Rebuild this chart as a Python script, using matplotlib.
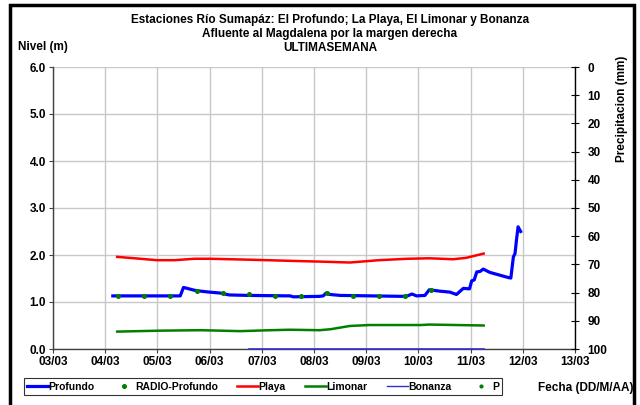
import numpy as np
import pandas as pd
import matplotlib
matplotlib.use("Agg")
import matplotlib.pyplot as plt
import matplotlib.dates as mdates
from matplotlib.patches import Rectangle
from matplotlib.lines import Line2D

plt.rcParams["font.family"] = ["Liberation Sans", "DejaVu Sans"]
plt.rcParams["font.weight"] = "bold"

# Datos (nivel en m)
profundo_t = [
    "2011-03-04 03:30", "2011-03-05 10:30", "2011-03-05 12:00", "2011-03-05 17:00",
    "2011-03-05 20:00", "2011-03-06 00:00", "2011-03-06 05:00", "2011-03-06 09:00",
    "2011-03-06 18:00", "2011-03-07 13:00", "2011-03-07 14:30", "2011-03-08 02:30",
    "2011-03-08 04:15", "2011-03-08 05:30", "2011-03-08 07:20", "2011-03-08 12:00",
    "2011-03-09 17:00", "2011-03-09 19:00", "2011-03-09 21:00", "2011-03-09 23:10",
    "2011-03-10 03:00", "2011-03-10 05:00", "2011-03-10 10:00", "2011-03-10 14:30",
    "2011-03-10 17:30", "2011-03-10 20:40", "2011-03-10 23:30", "2011-03-11 00:30",
    "2011-03-11 01:40", "2011-03-11 02:50", "2011-03-11 04:20", "2011-03-11 05:50",
    "2011-03-11 08:50", "2011-03-11 13:30", "2011-03-11 17:20", "2011-03-11 18:30",
    "2011-03-11 19:40", "2011-03-11 20:25", "2011-03-11 21:10", "2011-03-11 21:50",
    "2011-03-11 23:00",
]
profundo_v = [
    1.13, 1.13, 1.31, 1.25,
    1.23, 1.21, 1.19, 1.15,
    1.14, 1.13, 1.11, 1.12,
    1.13, 1.19, 1.16, 1.14,
    1.12, 1.13, 1.17, 1.13,
    1.14, 1.26, 1.23, 1.21,
    1.16, 1.29, 1.28, 1.45,
    1.47, 1.64, 1.65, 1.70,
    1.63, 1.57, 1.52, 1.51,
    1.96, 2.03, 2.35, 2.60,
    2.50,
]

radio_t = pd.date_range("2011-03-04 06:00", "2011-03-10 06:00", freq="12h")
radio_v = [1.13, 1.13, 1.13, 1.23, 1.19, 1.16, 1.13, 1.13, 1.19, 1.13, 1.13, 1.12, 1.25]

playa_t = [
    "2011-03-04 05:30", "2011-03-04 13:30", "2011-03-04 23:45", "2011-03-05 08:00",
    "2011-03-05 17:00", "2011-03-06 00:00", "2011-03-06 18:30", "2011-03-07 17:30",
    "2011-03-08 02:30", "2011-03-08 16:30", "2011-03-09 06:00", "2011-03-09 19:00",
    "2011-03-10 05:00", "2011-03-10 16:00", "2011-03-10 22:00", "2011-03-11 06:00",
]
playa_v = [1.96, 1.93, 1.89, 1.89, 1.92, 1.92, 1.90, 1.87,
           1.86, 1.84, 1.89, 1.92, 1.93, 1.91, 1.94, 2.03]

limonar_t = [
    "2011-03-04 05:30", "2011-03-05 01:00", "2011-03-05 20:00", "2011-03-06 14:00",
    "2011-03-07 04:00", "2011-03-07 13:00", "2011-03-08 02:30", "2011-03-08 07:30",
    "2011-03-08 16:30", "2011-03-09 01:30", "2011-03-10 01:00", "2011-03-10 05:00",
    "2011-03-11 06:00",
]
limonar_v = [0.37, 0.39, 0.40, 0.38, 0.40, 0.41, 0.40, 0.42, 0.49, 0.51, 0.51, 0.52, 0.50]

bonanza_t = ["2011-03-06 18:00", "2011-03-08 00:00", "2011-03-10 00:00", "2011-03-11 06:00"]
bonanza_v = [0.0, 0.0, 0.0, 0.0]

# Precipitacion (sin registros en la semana)
p_t = []
p_v = []

titulo = ("Estaciones Río Sumapáz: El Profundo; La Playa, El Limonar y Bonanza\n"
          "Afluente al Magdalena por la margen derecha\n"
          "ULTIMASEMANA")

W, H = 640, 405
fig = plt.figure(figsize=(W / 100, H / 100), dpi=100)
fig.patch.set_facecolor("white")
ax = fig.add_axes([53 / W, 1 - 349 / H, (575 - 53) / W, (349 - 67) / H])

grid_c = "#C8C8C8"
ax.plot(pd.to_datetime(profundo_t), profundo_v, color="#0000FF", lw=2.3, zorder=4)
ax.plot(radio_t, radio_v, ls="none", marker="o", ms=2.6, color="#008000", zorder=5)
ax.plot(pd.to_datetime(playa_t), playa_v, color="#FF0000", lw=1.8, zorder=3)
ax.plot(pd.to_datetime(limonar_t), limonar_v, color="#008000", lw=1.8, zorder=3)
ax.plot(pd.to_datetime(bonanza_t), bonanza_v, color="#3333CC", lw=1.2, zorder=3, clip_on=False)

ax.set_ylim(0, 6)
ax.set_yticks(np.arange(0, 6.1, 1.0))
ax.yaxis.set_major_formatter(matplotlib.ticker.FormatStrFormatter("%.1f"))
ax.set_xlim(pd.Timestamp("2011-03-03"), pd.Timestamp("2011-03-13"))
ax.xaxis.set_major_locator(mdates.DayLocator())
ax.xaxis.set_major_formatter(mdates.DateFormatter("%d/%m"))
ax.grid(True, color=grid_c, lw=1.0)
ax.set_axisbelow(True)
ax.tick_params(axis="both", labelsize=8.5, length=3, width=0.8, colors="#404040",
               labelcolor="black", pad=2)
for s in ["top", "right"]:
    ax.spines[s].set_visible(False)
for s in ["left", "bottom"]:
    ax.spines[s].set_color("#404040")
    ax.spines[s].set_linewidth(1.0)

ax2 = ax.twinx()
ax2.plot(pd.to_datetime(p_t), p_v, ls="none", marker="o", ms=2, color="#008000")
ax2.set_ylim(100, 0)
ax2.set_yticks(np.arange(0, 101, 10))
ax2.tick_params(axis="y", labelsize=8.5, length=6, width=0.8, direction="inout", pad=6)
for s in ["top", "left", "bottom"]:
    ax2.spines[s].set_visible(False)
ax2.spines["right"].set_linewidth(1.0)

fig.text(330 / W, 1 - 14 / H, titulo, ha="center", va="top", fontsize=8.5,
         fontweight="bold", linespacing=1.2)
fig.text(18 / W, 1 - 47 / H, "Nivel (m)", ha="left", va="center", fontsize=8.5, fontweight="bold")
fig.text(622 / W, 1 - 109 / H, "Precipitacion (mm)", ha="center", va="center",
         rotation=90, fontsize=8.5, fontweight="bold")
fig.text(633 / W, 1 - 388 / H, "Fecha (DD/M/AA)", ha="right", va="center",
         fontsize=8.5, fontweight="bold")

handles = [
    Line2D([], [], color="#0000FF", lw=2.3),
    Line2D([], [], ls="none", marker="o", ms=2.6, color="#008000"),
    Line2D([], [], color="#FF0000", lw=1.8),
    Line2D([], [], color="#008000", lw=1.8),
    Line2D([], [], color="#3333CC", lw=1.0),
    Line2D([], [], ls="none", marker="o", ms=2, color="#008000"),
]
labels = ["Profundo", "RADIO-Profundo", "Playa", "Limonar", "Bonanza", "P"]
leg = fig.legend(handles, labels, loc="center", bbox_to_anchor=(263 / W, 1 - 386.5 / H),
                 ncol=6, fontsize=7.5, frameon=True, fancybox=False, edgecolor="black",
                 borderpad=0.3, handlelength=2.0, handletextpad=0.0, columnspacing=1.9,
                 borderaxespad=0)
leg.get_frame().set_linewidth(0.8)

fig.add_artist(Rectangle((10 / W, -0.05), (634 - 10) / W, 1.05 - 5 / H,
                         transform=fig.transFigure, fill=False, lw=2.5, ec="black"))

fig.savefig("out.png", dpi=100)
